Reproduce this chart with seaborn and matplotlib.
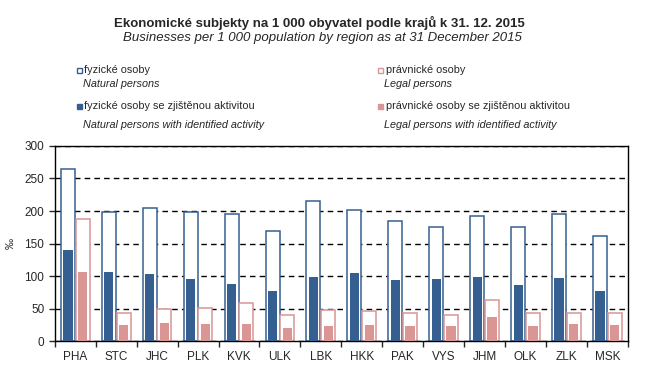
import matplotlib
matplotlib.use('Agg')
import matplotlib.pyplot as plt
from matplotlib.patches import Rectangle
from matplotlib.ticker import FixedLocator
import seaborn as sns
import pandas as pd

# kraje a hodnoty (na 1 000 obyvatel)
regions = ['PHA', 'STC', 'JHC', 'PLK', 'KVK', 'ULK', 'LBK',
           'HKK', 'PAK', 'VYS', 'JHM', 'OLK', 'ZLK', 'MSK']
natural = [264, 199, 204, 198, 196, 169, 216, 201, 184, 176, 193, 176, 195, 162]
natural_active = [140, 106, 103, 96, 88, 77, 99, 105, 94, 96, 99, 86, 97, 77]
legal = [187, 44, 49, 51, 58, 41, 48, 46, 43, 40, 64, 43, 44, 43]
legal_active = [106, 25, 28, 27, 27, 20, 24, 25, 23, 23, 37, 23, 27, 25]

blue = '#365F91'
pink = '#D99694'

df = pd.concat([
    pd.DataFrame({'region': regions, 'typ': 'fyzické', 'celkem': natural, 'aktivni': natural_active}),
    pd.DataFrame({'region': regions, 'typ': 'právnické', 'celkem': legal, 'aktivni': legal_active}),
], ignore_index=True)

sns.set_style('white')
plt.rcParams['font.family'] = ['Liberation Sans', 'DejaVu Sans']

fig = plt.figure(figsize=(6.52, 3.75), dpi=100)
ax = fig.add_axes([0.084, 0.09, 0.879, 0.521])

# obrysové sloupce (všechny subjekty)
sns.barplot(data=df, x='region', y='celkem', hue='typ', palette=[blue, pink],
            width=0.72, gap=0.05, legend=False, ax=ax, zorder=2)
for p, c in zip(ax.patches, [blue] * 14 + [pink] * 14):
    p.set_facecolor('white')
    p.set_edgecolor(c)
    p.set_linewidth(1.1)
n = len(ax.patches)

# plné sloupce (se zjištěnou aktivitou)
sns.barplot(data=df, x='region', y='aktivni', hue='typ', palette=[blue, pink],
            width=0.72, gap=0.37, legend=False, ax=ax, zorder=3, saturation=1)
for p in ax.patches[n:]:
    p.set_linewidth(0)

ax.set_ylim(0, 300)
ax.set_xlim(-0.5, 13.5)
ax.set_yticks(range(0, 301, 50))
ax.yaxis.grid(True, color='black', linestyle=(0, (4, 3)), linewidth=1.0, zorder=1)
ax.set_axisbelow(True)
for s in ax.spines.values():
    s.set_visible(True)
    s.set_color('black')
    s.set_linewidth(1.0)

ax.xaxis.set_minor_locator(FixedLocator([i - 0.5 for i in range(15)]))
ax.tick_params(axis='x', which='major', length=0, labelsize=8.5, pad=7)
ax.tick_params(axis='x', which='minor', length=4, width=1, direction='out', bottom=True)
ax.tick_params(axis='y', length=4, width=1, direction='out', left=True, labelsize=8.5)
ax.set_xlabel('')
ax.set_ylabel('‰', fontsize=8, labelpad=6)

# nadpis
fig.text(0.49, 0.94, 'Ekonomické subjekty na 1 000 obyvatel podle krajů k 31. 12. 2015',
         ha='center', va='center', fontsize=9.5, fontweight='bold')
fig.text(0.495, 0.898, 'Businesses per 1 000 population by region as at 31 December 2015',
         ha='center', va='center', fontsize=9.5, style='italic')

# legenda
items = [
    (76.5, 70, 84, 'fyzické osoby', 'Natural persons', blue, False),
    (76.5, 106, 125, 'fyzické osoby se zjištěnou aktivitou', 'Natural persons with identified activity', blue, True),
    (378, 70, 84, 'právnické osoby', 'Legal persons', pink, False),
    (378, 106, 125, 'právnické osoby se zjištěnou aktivitou', 'Legal persons with identified activity', pink, True),
]
W, H = 652, 375
for x, y, y2, cz, en, c, filled in items:
    fig.patches.append(Rectangle((x / W, (H - y - 3) / H), 5 / W, 5 / H,
                                 transform=fig.transFigure, facecolor=c if filled else 'white',
                                 edgecolor=c, linewidth=1.0))
    fig.text((x + 7.5) / W, (H - y) / H, cz, ha='left', va='center', fontsize=7.8)
    fig.text((x + 6.5) / W, (H - y2) / H, en, ha='left', va='center', fontsize=7.8, style='italic')

fig.savefig('out.png', dpi=100)
